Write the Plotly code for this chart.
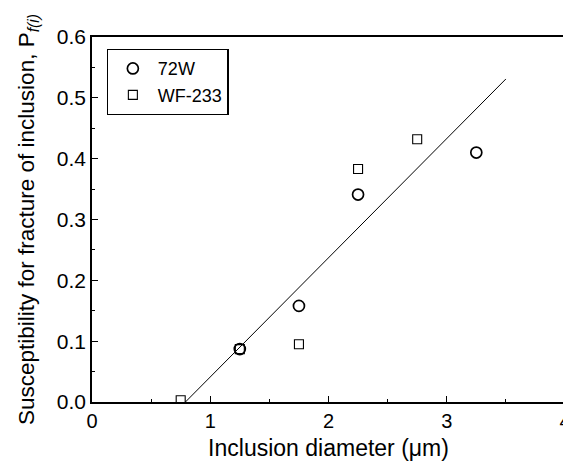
import plotly.graph_objects as go

# Data
x_72w = [1.25, 1.75, 2.25, 3.25]
y_72w = [0.087, 0.158, 0.341, 0.410]
x_wf = [0.75, 1.25, 1.75, 2.25, 2.75]
y_wf = [0.003, 0.087, 0.095, 0.383, 0.432]
fit_x = [0.79, 3.50]
fit_y = [0.0, 0.531]

x_ticks = [0, 1, 2, 3, 4]
y_ticks = [0.0, 0.1, 0.2, 0.3, 0.4, 0.5, 0.6]

fig = go.Figure()
fig.add_trace(go.Scatter(x=fit_x, y=fit_y, mode="lines",
                         line=dict(color="black", width=1), showlegend=False))
fig.add_trace(go.Scatter(x=x_72w, y=y_72w, mode="markers", name="72W",
                         marker=dict(symbol="circle-open", size=11, color="black",
                                     line=dict(width=1.7, color="black"))))
fig.add_trace(go.Scatter(x=x_wf, y=y_wf, mode="markers", name="WF-233",
                         marker=dict(symbol="square-open", size=9, color="black",
                                     line=dict(width=1.1, color="black"))))

font = "Liberation Sans, Arial, sans-serif"
fig.update_layout(
    width=563, height=458,
    margin=dict(l=84, r=6, t=29, b=64),
    paper_bgcolor="white", plot_bgcolor="white",
    font=dict(family=font, color="black", size=20),
    legend=dict(x=0.031, y=0.967, xanchor="left", yanchor="top",
                bordercolor="black", borderwidth=1.2, bgcolor="white",
                font=dict(size=18), itemwidth=40, tracegroupgap=0),
    xaxis=dict(range=[0, 4], tickvals=x_ticks, ticktext=[str(v) for v in x_ticks],
               ticks="inside", ticklen=6, tickwidth=1.2, tickcolor="black",
               tickfont=dict(size=20),
               minor=dict(dtick=0.5, ticks="inside", ticklen=3, tickcolor="black"),
               showline=True, linecolor="black", linewidth=1.5, mirror=True,
               showgrid=False, zeroline=False, automargin=False,
               title=dict(text="Inclusion diameter (μm)", font=dict(size=23), standoff=9)),
    yaxis=dict(range=[0, 0.6], tickvals=y_ticks, ticktext=[f"{v:.1f}" for v in y_ticks],
               ticks="inside", ticklen=6, tickwidth=1.2, tickcolor="black",
               tickfont=dict(size=21),
               minor=dict(dtick=0.05, ticks="inside", ticklen=3, tickcolor="black"),
               showline=True, linecolor="black", linewidth=1.5, mirror=True,
               showgrid=False, zeroline=False, automargin=False,
               title=dict(text="Susceptibility for fracture of inclusion, P<sub><i>f(i)</i></sub>",
                          font=dict(size=22.5), standoff=16)),
)

fig.write_html("out.html")
